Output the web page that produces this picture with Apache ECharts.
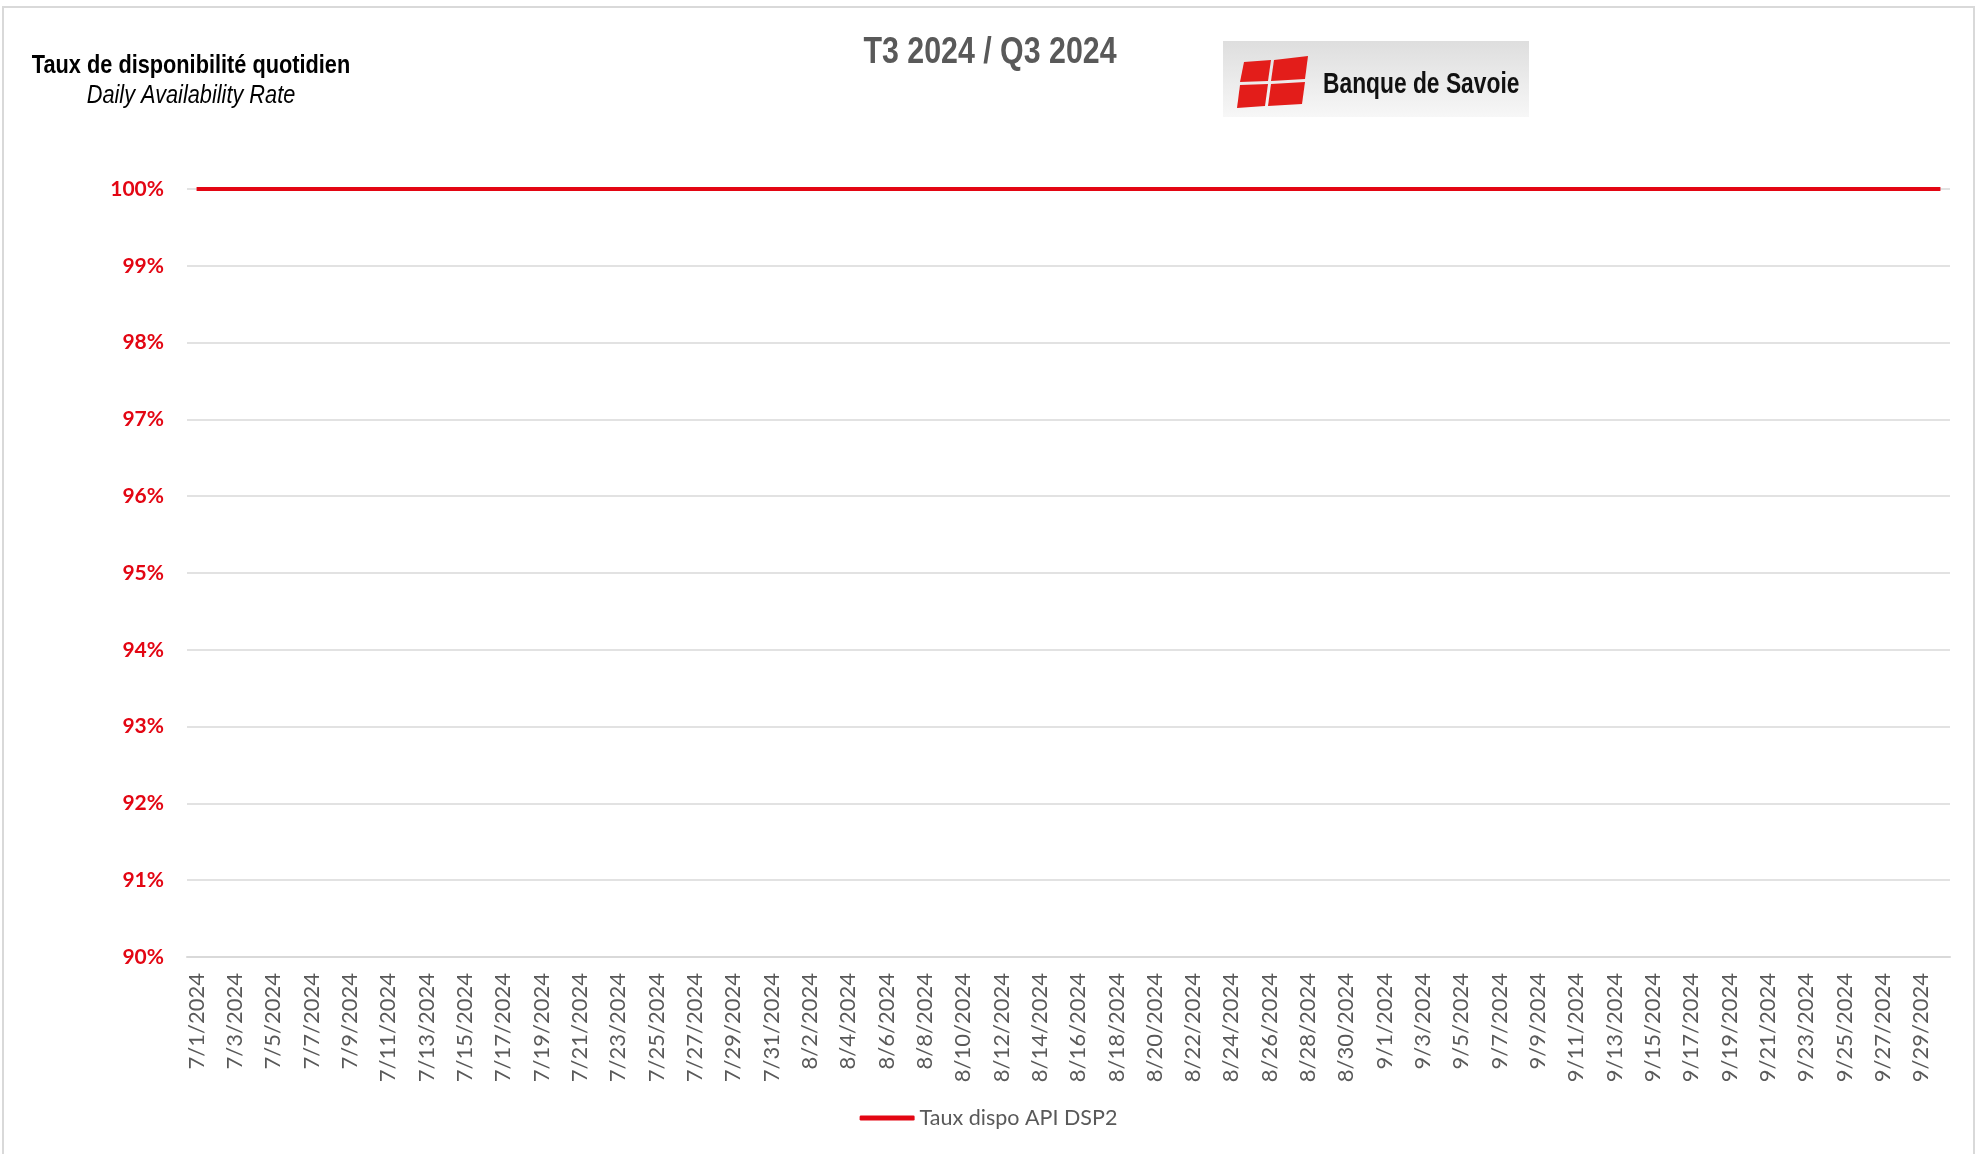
<!DOCTYPE html>
<html>
<head>
<meta charset="utf-8">
<script src="https://cdn.jsdelivr.net/npm/echarts@6/dist/echarts.min.js"></script>
<style>
  html, body { margin: 0; padding: 0; background: #fff; }
  #chart { width: 1977px; height: 1154px; }
</style>
</head>
<body>
<div id="chart"></div>
<script>
const dates = [
  "7/1/2024", "7/2/2024", "7/3/2024", "7/4/2024", "7/5/2024", "7/6/2024", "7/7/2024", "7/8/2024",
  "7/9/2024", "7/10/2024", "7/11/2024", "7/12/2024", "7/13/2024", "7/14/2024", "7/15/2024", "7/16/2024",
  "7/17/2024", "7/18/2024", "7/19/2024", "7/20/2024", "7/21/2024", "7/22/2024", "7/23/2024", "7/24/2024",
  "7/25/2024", "7/26/2024", "7/27/2024", "7/28/2024", "7/29/2024", "7/30/2024", "7/31/2024",
  "8/1/2024", "8/2/2024", "8/3/2024", "8/4/2024", "8/5/2024", "8/6/2024", "8/7/2024", "8/8/2024",
  "8/9/2024", "8/10/2024", "8/11/2024", "8/12/2024", "8/13/2024", "8/14/2024", "8/15/2024", "8/16/2024",
  "8/17/2024", "8/18/2024", "8/19/2024", "8/20/2024", "8/21/2024", "8/22/2024", "8/23/2024", "8/24/2024",
  "8/25/2024", "8/26/2024", "8/27/2024", "8/28/2024", "8/29/2024", "8/30/2024", "8/31/2024",
  "9/1/2024", "9/2/2024", "9/3/2024", "9/4/2024", "9/5/2024", "9/6/2024", "9/7/2024", "9/8/2024",
  "9/9/2024", "9/10/2024", "9/11/2024", "9/12/2024", "9/13/2024", "9/14/2024", "9/15/2024", "9/16/2024",
  "9/17/2024", "9/18/2024", "9/19/2024", "9/20/2024", "9/21/2024", "9/22/2024", "9/23/2024", "9/24/2024",
  "9/25/2024", "9/26/2024", "9/27/2024", "9/28/2024", "9/29/2024", "9/30/2024"
]

// taux de disponibilité (%) - 100% tous les jours
const availability = [
  100, 100, 100, 100, 100, 100, 100, 100, 100, 100, 100, 100, 100, 100, 100, 100,
  100, 100, 100, 100, 100, 100, 100, 100, 100, 100, 100, 100, 100, 100, 100,
  100, 100, 100, 100, 100, 100, 100, 100, 100, 100, 100, 100, 100, 100, 100, 100,
  100, 100, 100, 100, 100, 100, 100, 100, 100, 100, 100, 100, 100, 100, 100,
  100, 100, 100, 100, 100, 100, 100, 100, 100, 100, 100, 100, 100, 100, 100, 100,
  100, 100, 100, 100, 100, 100, 100, 100, 100, 100, 100, 100, 100, 100
]

const yMin = 90
const yMax = 100
const yStep = 1
const seriesName = "Taux dispo API DSP2"

const red = "#e30613"
const grey = "#595959"
const gridGrey = "#d9d9d9"
const sans = "'Liberation Sans', Arial, sans-serif"

// pas d'Arial Narrow : Liberation Sans compressé horizontalement
const narrowText = (text, x, baseline, size, opts = {}) => ({
  type: "text",
  x,
  y: baseline - 0.3465 * size,
  scaleX: opts.scaleX || 0.82,
  silent: true,
  style: {
    text,
    fill: opts.color || "#000",
    font: `${opts.italic ? "italic " : ""}${opts.bold ? "bold " : ""}${size}px ${sans}`,
    align: opts.align || "left",
    verticalAlign: "middle"
  }
})

const chart = echarts.init(document.getElementById("chart"))

chart.setOption({
  backgroundColor: "#fff",
  animation: false,
  graphic: [
    {
      type: "rect",
      silent: true,
      shape: { x: 3, y: 7, width: 1971, height: 1160 },
      style: { fill: "none", stroke: gridGrey, lineWidth: 2 }
    },
    narrowText("T3 2024 / Q3 2024", 990, 66, 37, { bold: true, color: grey, align: "center" }),
    narrowText("Taux de disponibilité quotidien", 191, 75, 26.5, { bold: true, align: "center" }),
    narrowText("Daily Availability Rate", 191, 105, 26.5, { italic: true, align: "center" }),
    {
      type: "group",
      silent: true,
      children: [
        {
          type: "rect",
          shape: { x: 1223, y: 41, width: 306, height: 76 },
          style: {
            fill: new echarts.graphic.LinearGradient(0, 0, 0, 1, [
              { offset: 0, color: "#dedede" },
              { offset: 1, color: "#f7f7f7" }
            ])
          }
        },
        { type: "polygon", shape: { points: [[1244, 62], [1271, 60], [1268, 81], [1240, 82]] }, style: { fill: "#e31d1a" } },
        { type: "polygon", shape: { points: [[1274, 60], [1308, 56], [1305, 79], [1271, 81]] }, style: { fill: "#e31d1a" } },
        { type: "polygon", shape: { points: [[1240, 85], [1268, 84], [1265, 106], [1237, 108]] }, style: { fill: "#e31d1a" } },
        { type: "polygon", shape: { points: [[1271, 84], [1305, 82], [1302, 104], [1268, 106]] }, style: { fill: "#e31d1a" } },
        narrowText("Banque de Savoie", 1323, 95, 30, { bold: true, color: "#111", scaleX: 0.76 })
      ]
    }
  ],
  legend: {
    bottom: 20,
    left: "center",
    icon: "roundRect",
    itemWidth: 55,
    itemHeight: 5,
    itemGap: 6,
    textStyle: { color: grey, fontFamily: "Lato", fontSize: 21.5 },
    data: [seriesName]
  },
  grid: { left: 187, right: 27, top: 189, bottom: 197 },
  xAxis: {
    type: "category",
    data: dates,
    boundaryGap: true,
    axisLine: { lineStyle: { color: gridGrey, width: 2 } },
    axisTick: { interval: 1, length: 8, lineStyle: { color: gridGrey, width: 2 } },
    axisLabel: {
      interval: 1,
      rotate: 90,
      margin: 16,
      color: grey,
      fontFamily: "Lato",
      fontSize: 22
    }
  },
  yAxis: {
    type: "value",
    min: yMin,
    max: yMax,
    interval: yStep,
    axisLine: { show: false },
    axisTick: { show: false },
    splitLine: { lineStyle: { color: gridGrey, width: 1.5 } },
    axisLabel: {
      formatter: "{value}%",
      margin: 23,
      color: red,
      fontFamily: "Lato",
      fontWeight: "bold",
      fontSize: 21
    }
  },
  series: [
    {
      name: seriesName,
      type: "line",
      data: availability,
      showSymbol: false,
      symbol: "none",
      lineStyle: { color: red, width: 4 },
      itemStyle: { color: red }
    }
  ]
})
</script>
</body>
</html>
